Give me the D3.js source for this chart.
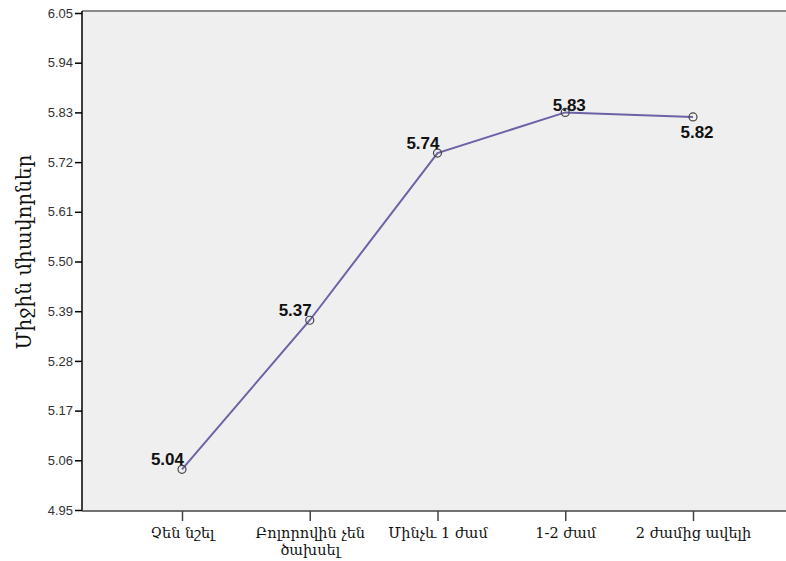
<!DOCTYPE html>
<html>
<head>
<meta charset="utf-8">
<script src="https://cdn.jsdelivr.net/npm/d3@7"></script>
<style>
  body { margin: 0; background: #fff; }
  svg { display: block; }
</style>
</head>
<body>
<div id="chart"></div>
<script>
var categories = [["Չեն նշել"], ["Բոլորովին չեն", "ծախսել"], ["Մինչև 1 ժամ"], ["1-2 ժամ"], ["2 ժամից ավելի"]];
var values = [5.04, 5.37, 5.74, 5.83, 5.82];
var labelPlace = ["left", "left", "left", "center", "below"];
var yTicks = [4.95, 5.06, 5.17, 5.28, 5.39, 5.50, 5.61, 5.72, 5.83, 5.94, 6.05];
var yTitle = "Միջին միավորներ";

var W = 786, H = 561;
var plotLeft = 82, plotTop = 11, plotBottom = 511, plotRight = 793;

var svg = d3.select("#chart").append("svg")
  .attr("width", W)
  .attr("height", H);

var y = d3.scaleLinear()
  .domain([4.95, 6.05])
  .range([510, 13]);

var x = d3.scalePoint()
  .domain(d3.range(categories.length))
  .range([plotLeft + 100, plotRight - 100]);

// plot background
svg.append("rect")
  .attr("x", plotLeft)
  .attr("y", plotTop)
  .attr("width", plotRight - plotLeft)
  .attr("height", plotBottom - plotTop)
  .attr("fill", "#efefef");

// top frame
svg.append("line")
  .attr("x1", plotLeft).attr("x2", plotRight)
  .attr("y1", plotTop).attr("y2", plotTop)
  .attr("stroke", "#8a8a8a")
  .attr("stroke-width", 2);

// y axis
var yAxis = d3.axisLeft(y)
  .tickValues(yTicks)
  .tickFormat(d3.format(".2f"))
  .tickSize(7)
  .tickPadding(2);

var gy = svg.append("g")
  .attr("transform", "translate(" + plotLeft + ",0)")
  .call(yAxis);
gy.select(".domain").remove();
gy.selectAll(".tick line").attr("stroke", "#000").attr("stroke-width", 1.5);
gy.selectAll(".tick text")
  .attr("font-family", "Liberation Sans, Arial, sans-serif")
  .attr("font-size", 13)
  .attr("fill", "#333");

svg.append("line")
  .attr("x1", plotLeft).attr("x2", plotLeft)
  .attr("y1", plotTop).attr("y2", plotBottom)
  .attr("stroke", "#000")
  .attr("stroke-width", 1.5);

// x axis
var xAxis = d3.axisBottom(x)
  .tickSize(10)
  .tickFormat("");

var gx = svg.append("g")
  .attr("transform", "translate(0," + plotBottom + ")")
  .call(xAxis);
gx.select(".domain").remove();
gx.selectAll(".tick line").attr("stroke", "#444").attr("stroke-width", 1.5);

svg.append("line")
  .attr("x1", plotLeft).attr("x2", plotRight)
  .attr("y1", plotBottom).attr("y2", plotBottom)
  .attr("stroke", "#444")
  .attr("stroke-width", 1.5);

gx.selectAll(".tick").each(function(d) {
  var t = d3.select(this).append("text")
    .attr("text-anchor", "middle")
    .attr("font-family", "DejaVu Serif, serif")
    .attr("font-size", 14.5)
    .attr("fill", "#111")
    .attr("y", 27);
  categories[d].forEach(function(s, i) {
    t.append("tspan").attr("x", 0).attr("dy", i === 0 ? 0 : 17).text(s);
  });
});

// y title
svg.append("text")
  .attr("transform", "translate(31," + 252 + ") rotate(-90)")
  .attr("text-anchor", "middle")
  .attr("font-family", "DejaVu Serif, serif")
  .attr("font-size", 20)
  .attr("fill", "#111")
  .text(yTitle);

// line
var line = d3.line()
  .x(function(d, i) { return x(i); })
  .y(function(d) { return y(d); });

svg.append("path")
  .datum(values)
  .attr("d", line)
  .attr("fill", "none")
  .attr("stroke", "#6b62a8")
  .attr("stroke-width", 2);

svg.selectAll(".pt")
  .data(values)
  .enter().append("circle")
  .attr("class", "pt")
  .attr("cx", function(d, i) { return x(i); })
  .attr("cy", function(d) { return y(d); })
  .attr("r", 4)
  .attr("fill", "none")
  .attr("stroke", "#444")
  .attr("stroke-width", 1.2);

svg.selectAll(".lbl")
  .data(values)
  .enter().append("text")
  .attr("class", "lbl")
  .attr("x", function(d, i) {
    if (labelPlace[i] === "left") return x(i) + 2;
    return x(i) + 4;
  })
  .attr("y", function(d, i) {
    if (labelPlace[i] === "below") return y(d) + 21;
    if (labelPlace[i] === "center") return y(d) - 1;
    return y(d) - 4;
  })
  .attr("text-anchor", function(d, i) { return labelPlace[i] === "left" ? "end" : "middle"; })
  .attr("font-family", "Liberation Sans, Arial, sans-serif")
  .attr("font-weight", "bold")
  .attr("font-size", 17)
  .attr("fill", "#111")
  .text(function(d) { return d3.format(".2f")(d); });
</script>
</body>
</html>
